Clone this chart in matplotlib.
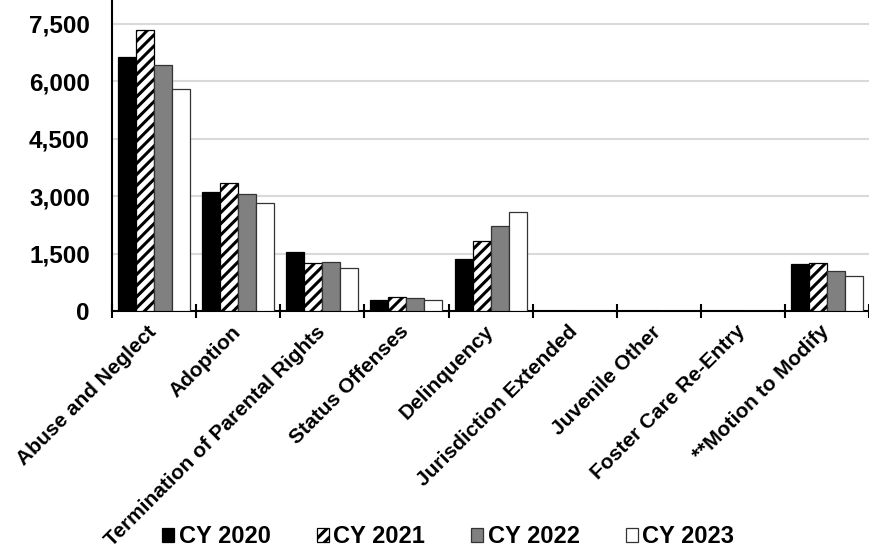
import numpy as np
import matplotlib.pyplot as plt
import matplotlib.transforms as mtransforms
from matplotlib.ticker import FuncFormatter, FixedLocator

plt.rcParams['font.family'] = ['Liberation Sans', 'DejaVu Sans']
plt.rcParams['font.weight'] = 'bold'
plt.rcParams['hatch.linewidth'] = 2.2

categories = ["Abuse and Neglect", "Adoption", "Termination of Parental Rights",
              "Status Offenses", "Delinquency", "Jurisdiction Extended",
              "Juvenile Other", "Foster Care Re-Entry", "**Motion to Modify"]
years = ["CY 2020", "CY 2021", "CY 2022", "CY 2023"]
cy2020 = [6640, 3100, 1530, 280, 1360, 0, 0, 0, 1230]
cy2021 = [7340, 3330, 1255, 365, 1820, 0, 0, 0, 1265]
cy2022 = [6410, 3065, 1275, 330, 2220, 0, 0, 0, 1040]
cy2023 = [5800, 2820, 1115, 295, 2590, 0, 0, 0, 925]
yticks = [0, 1500, 3000, 4500, 6000, 7500]

series = [cy2020, cy2021, cy2022, cy2023]
faces = ["black", "white", "#808080", "white"]
hatches = [None, "///", None, None]
edges = ["black", "black", "#333333", "#333333"]

fig = plt.figure(figsize=(8.69, 5.51), dpi=100)
ax = fig.add_axes([0.129, 0.4356, 0.871, 0.5644])

x = np.arange(len(categories))
w = 0.214
for i, vals in enumerate(series):
    ax.bar(x + (i - 1.5) * w, vals, width=w, color=faces[i], hatch=hatches[i],
           edgecolor=edges[i], linewidth=0.9, label=years[i], zorder=3)

ax.set_xlim(-0.5, len(categories) - 0.5)
ax.set_ylim(0, 8120)
ax.set_yticks(yticks)
ax.yaxis.set_major_formatter(FuncFormatter(lambda v, p: f"{int(v):,}"))
ax.grid(axis="y", color="#d9d9d9", linewidth=1.5, zorder=0)
ax.tick_params(axis="y", length=0, labelsize=17.5, pad=16)

ax.set_xticks(x)
ax.set_xticklabels(categories, rotation=45, ha="right", rotation_mode="anchor", fontsize=15)
ax.tick_params(axis="x", which="major", length=0, pad=8)
ax.xaxis.set_minor_locator(FixedLocator(np.arange(-0.5, len(categories), 1.0)))
ax.tick_params(axis="x", which="minor", direction="inout", length=10, width=1.5)

# nudge rotated labels left so they end under the category centre
shift = mtransforms.ScaledTranslation(-0.07, 0.0, fig.dpi_scale_trans)
for lbl in ax.get_xticklabels():
    lbl.set_transform(lbl.get_transform() + shift)

for s in ["top", "right"]:
    ax.spines[s].set_visible(False)
ax.spines["left"].set_linewidth(1.5)
ax.spines["bottom"].set_linewidth(1.5)

fig.legend(loc="center", bbox_to_anchor=(0.516, 0.026), ncol=4, frameon=False,
           fontsize=17, handlelength=0.5, handleheight=0.5, handletextpad=0.2,
           columnspacing=1.95)

fig.savefig("out.png", dpi=100)
